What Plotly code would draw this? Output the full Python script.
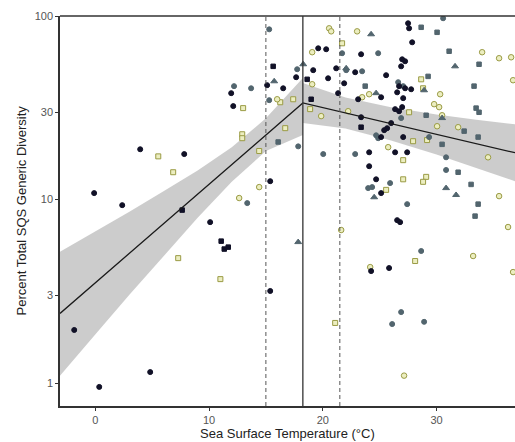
import plotly.graph_objects as go

# ---------------- data ----------------
# black circles
blk_c_x = [3.95, -0.1, 2.37, -1.85, 0.35, 4.83, 7.82, 10.1, 15.38, 19.6, 20.3, 19.16, 21.18, 17.66, 20.47,
           21.88, 15.11, 11.95, 16.52, 21.35, 12.13, 15.38, 27.5, 27.59, 27.86, 23.37, 26.98, 27.24, 26.89,
           25.57, 22.85, 26.71, 27.24, 27.77, 26.54, 25.13, 23.11, 27.07, 26.98, 26.36, 26.71, 23.37, 26.01,
           25.66, 25.4, 25.13, 27.07, 24.08, 26.36, 27.42, 24.08, 24.69, 25.13, 26.54, 26.8, 24.25, 25.83]
blk_c_y = [18.8, 10.85, 9.33, 1.95, 0.955, 1.15, 17.7, 7.54, 3.18, 66.7, 65.9, 50.7, 51.9, 46.4, 45.8,
           43.0, 42.0, 38.0, 40.4, 38.0, 32.3, 12.6, 91.3, 85.7, 71.9, 61.9, 58.1, 56.7, 53.2,
           47.6, 49.4, 41.5, 40.4, 39.9, 38.4, 36.1, 35.2, 35.7, 31.9, 31.1, 30.3, 28.1, 26.1,
           24.5, 23.9, 21.9, 21.9, 18.1, 18.1, 18.1, 15.2, 12.9, 10.85, 7.73, 7.54, 4.08, 4.24]
# black squares
blk_s_x = [7.64, 11.07, 11.34, 11.69, 15.64, 18.63, 18.98, 23.37]
blk_s_y = [8.77, 5.94, 5.38, 5.51, 53.2, 45.2, 35.2, 24.8]
# grey circles
gry_c_x = [15.29, 21.7, 17.75, 12.2, 13.7, 15.29, 17.84, 20.04, 13.36, 30.58, 24.87, 22.06, 23.46, 26.63,
           27.07, 26.89, 24.69, 24.87, 29.35, 22.85, 30.84, 30.84, 25.92, 24.34, 23.99, 27.42, 28.65,
           26.89, 26.1, 28.91]
gry_c_y = [84.6, 62.7, 51.3, 41.5, 40.4, 34.8, 19.5, 17.7, 9.57, 97.2, 62.7, 50.7, 50.0, 43.6,
           41.5, 27.8, 22.4, 21.6, 21.9, 17.7, 17.0, 14.5, 12.3, 11.7, 11.55, 9.45, 5.25,
           2.44, 2.10, 2.16]
# grey squares
gry_s_x = [16.08, 28.65, 30.05, 31.11, 33.74, 29.26, 33.3, 23.73, 33.48, 33.74, 29.09, 32.43, 33.66,
           30.49, 31.9, 33.04, 33.66, 33.39]
gry_s_y = [20.6, 86.8, 81.5, 64.3, 54.6, 46.9, 41.5, 41.5, 31.5, 29.9, 28.8, 23.6, 21.9,
           20.0, 14.1, 12.1, 9.45, 8.13]
# grey triangles
gry_t_x = [18.28, 22.06, 15.73, 17.84, 24.25, 31.63, 28.91, 24.69, 30.49, 30.84, 31.72, 24.52]
gry_t_y = [54.6, 51.9, 44.1, 5.87, 79.5, 53.2, 39.4, 38.0, 27.8, 11.55, 10.6, 10.3]
# yellow squares
yel_s_x = [5.54, 6.85, 7.29, 11.0, 21.09, 21.7, 16.26, 17.4, 13.0, 18.89, 12.92, 12.92, 14.41, 28.65,
           28.82, 27.59, 29.17, 27.94, 27.07, 27.07, 29.09, 28.82, 25.57, 28.12, 16.7]
yel_s_y = [17.2, 14.1, 4.80, 3.69, 2.13, 71.0, 33.9, 35.2, 31.5, 31.1, 22.7, 21.6, 18.4, 45.2,
           40.4, 29.9, 21.1, 20.8, 16.4, 12.9, 13.3, 12.5, 11.3, 4.63, 24.5]
# yellow circles / diamonds
yel_c_x = [21.62, 20.56, 20.74, 19.07, 19.07, 15.99, 19.86, 14.41, 12.65, 23.02, 34.01, 35.5, 36.56,
           30.32, 23.46, 24.08, 29.79, 30.23, 30.49, 30.05, 31.9, 25.75, 34.53, 35.5, 36.29, 33.22,
           24.17, 27.15, 36.73, 36.73, 22.23]
yel_c_y = [6.83, 85.7, 82.5, 63.5, 42.5, 35.2, 28.5, 11.7, 10.2, 82.5, 63.5, 58.9, 59.6,
           37.5, 36.1, 37.5, 33.1, 31.9, 28.8, 25.1, 24.8, 19.3, 17.0, 10.45, 7.09, 4.93,
           4.29, 1.10, 44.7, 4.03, 30.3]

# segmented fit and its confidence band
fit_x = [-3.1, 18.25, 36.9]
fit_y = [2.40, 33.6, 18.0]
band_left_x = [-3.1, 0, 3, 6, 9, 12, 15, 18.25]
band_left_hi = [5.2, 6.7, 8.6, 11.1, 14.4, 19.3, 27.7, 46.0]
band_left_lo = [1.10, 1.84, 3.03, 4.93, 7.96, 12.5, 18.4, 22.5]
band_right_x = [18.25, 22, 26, 30, 33.5, 36.9]
band_right_hi = [43.2, 36.0, 31.8, 29.1, 27.2, 25.7]
band_right_lo = [26.1, 24.4, 21.0, 17.6, 14.9, 12.6]

breakpoint_x = 18.25
ci_x = [15.0, 21.5]

x_ticks = [0, 10, 20, 30]
y_ticks = [1, 3, 10, 30, 100]

# ---------------- figure ----------------
fig = go.Figure()

for bx, bh, bl in [(band_left_x, band_left_hi, band_left_lo),
                   (band_right_x, band_right_hi, band_right_lo)]:
    fig.add_trace(go.Scatter(x=bx + bx[::-1], y=bh + bl[::-1], fill="toself",
                             fillcolor="rgba(195,195,195,0.85)", line=dict(width=0),
                             mode="lines", hoverinfo="skip", showlegend=False))

BLACK = "#111127"
GREY = "#52656e"
YFILL = "#eceec0"
YLINE = "#9a9b45"

def pts(x, y, sym, fill, line, size=5.5):
    fig.add_trace(go.Scatter(x=x, y=y, mode="markers", showlegend=False,
                             marker=dict(symbol=sym, size=size, color=fill,
                                         line=dict(color=line, width=1))))

pts(yel_s_x, yel_s_y, "square", YFILL, YLINE, 5)
pts(yel_c_x, yel_c_y, "circle", YFILL, YLINE, 5.5)
pts(gry_c_x, gry_c_y, "circle", GREY, GREY, 5)
pts(gry_s_x, gry_s_y, "square", GREY, GREY, 4.5)
pts(gry_t_x, gry_t_y, "triangle-up", GREY, GREY, 6)
pts(blk_s_x, blk_s_y, "square", BLACK, BLACK, 4.5)
pts(blk_c_x, blk_c_y, "circle", BLACK, BLACK, 5)

fig.add_trace(go.Scatter(x=fit_x, y=fit_y, mode="lines", line=dict(color="#1a1a1a", width=1.3),
                         showlegend=False, hoverinfo="skip"))

fig.add_vline(x=breakpoint_x, line=dict(color="#333333", width=1.3))
for cx in ci_x:
    fig.add_vline(x=cx, line=dict(color="#555555", width=1, dash="4px,3px"))

# top border
fig.add_shape(type="line", xref="paper", yref="paper", x0=0, x1=1, y0=1, y1=1,
              line=dict(color="#333333", width=1.5))

# axis titles as annotations (fixed positions)
fig.add_annotation(text="Sea Surface Temperature (°C)", xref="paper", yref="paper",
                   x=0.5, y=0, yshift=-18, xanchor="center", yanchor="top", showarrow=False,
                   font=dict(size=13, color="#222222"))
fig.add_annotation(text="Percent Total SQS Generic Diversity", xref="paper", yref="paper",
                   x=0, y=0.5, xshift=-30, xanchor="right", yanchor="middle", textangle=-90,
                   showarrow=False, font=dict(size=13, color="#222222"))

fig.update_layout(
    width=515, height=442,
    margin=dict(l=60, r=0, t=16, b=36, autoexpand=False),
    paper_bgcolor="white", plot_bgcolor="white",
    font=dict(family="Liberation Sans, Arial, sans-serif", color="#222222"),
    xaxis=dict(range=[-3.1, 36.9], tickvals=x_ticks, ticktext=[str(v) for v in x_ticks],
               showgrid=False, zeroline=False, showline=True, linecolor="#333333", linewidth=1.5,
               ticks="outside", ticklen=3, tickcolor="#333333", automargin=False,
               tickfont=dict(size=11, color="#555555")),
    yaxis=dict(type="log", range=[-0.124, 2.0], tickvals=y_ticks, ticktext=[str(v) for v in y_ticks],
               showgrid=False, zeroline=False, showline=True, linecolor="#333333", linewidth=1.5,
               ticks="outside", ticklen=3, tickcolor="#333333", automargin=False,
               tickfont=dict(size=11, color="#555555")),
)

fig.write_html("out.html", config={"displayModeBar": False},
               post_script="document.body.style.margin='0';document.body.style.overflow='hidden';")
